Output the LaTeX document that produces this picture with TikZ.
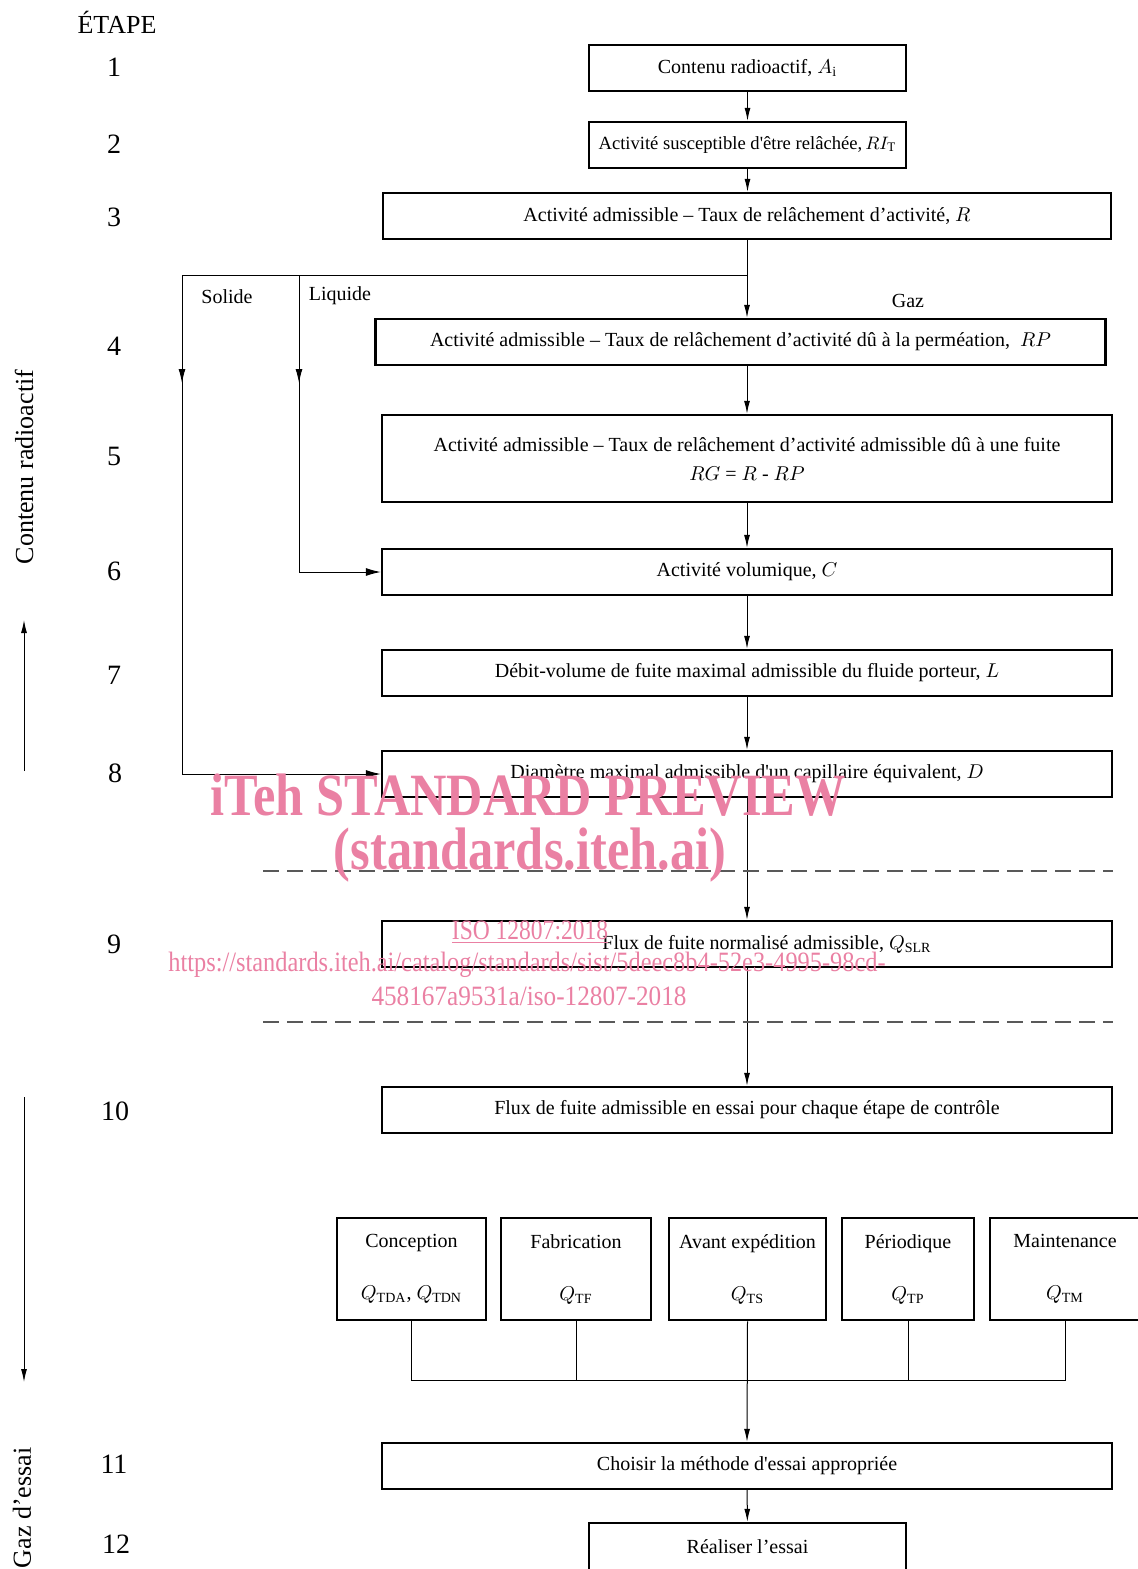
\documentclass[tikz,border=0pt]{standalone}
\usepackage{fontspec}
\setmainfont{Liberation Serif}
\usetikzlibrary{arrows.meta,decorations.markings}

\definecolor{wmpink}{RGB}{234,128,163}
\newcommand{\apos}{\textquotesingle}

\tikzset{
  etape/.style={draw,line width=1.2pt,inner sep=2pt,minimum height=23pt,font=\fontsize{10}{12}\selectfont},
  wide/.style={etape,minimum width=365pt},
  narrow/.style={etape,minimum width=158.5pt},
  ctrl/.style={etape,minimum height=51pt,align=center,anchor=north},
  num/.style={font=\fontsize{14}{16}\selectfont},
  side/.style={font=\fontsize{13}{15}\selectfont,rotate=90},
  branche/.style={font=\fontsize{10}{12}\selectfont},
  trait/.style={line width=0.5pt},
  lien/.style={trait,-{Latex[length=6.5pt,width=3pt]}},
  midarrow/.style={trait,-{Latex[length=7.5pt,width=4pt]},
    decoration={markings,mark=at position 54pt with {\arrow{Latex[length=7pt,width=3.5pt]}}},
    postaction={decorate}},
  sep/.style={line width=0.6pt,gray!70!black,dash pattern=on 8pt off 4pt},
  wm/.style={text=wmpink}
}

\begin{document}
\begin{tikzpicture}[x=0.5pt,y=-0.5pt]
    \useasboundingbox (0,0) rectangle (1138,1569);

    % Step column
    \node[font=\fontsize{13}{15}\selectfont] (etp) at (117,22) {ÉTAPE};
    \node[num] (n1) at (114,67) {1};
    \node[num] (n2) at (114,144) {2};
    \node[num] (n3) at (114,217) {3};
    \node[num] (n4) at (114,346) {4};
    \node[num] (n5) at (114,456) {5};
    \node[num] (n6) at (114,571) {6};
    \node[num] (n7) at (114,675) {7};
    \node[num] (n8) at (115,773) {8};
    \node[num] (n9) at (114,944) {9};
    \node[num] (n10) at (115,1111) {10};
    \node[num] (n11) at (114,1464) {11};
    \node[num] (n12) at (116,1544) {12};

    % Side labels
    \node[side] (radio) at (24,467) {Contenu radioactif};
    \node[side] (gazes) at (22,1508) {Gaz d’essai};
    \coordinate (upA) at (24,771);
    \coordinate (upB) at (24,620);
    \coordinate (dnA) at (24,1097);
    \coordinate (dnB) at (24,1382);
    \draw[lien] (upA) -- (upB);
    \draw[lien] (dnA) -- (dnB);

    % Main boxes
    \node[narrow] (contenu) at (747.5,68) {Contenu radioactif, $A_{\mathrm{i}}$};
    \node[narrow,inner sep=1pt,font=\fontsize{9.3}{11}\selectfont] (relache) at (747.5,145) {Activité susceptible d\apos être relâchée,$\,RI_{\mathrm{T}}$};
    \node[wide,minimum width=364pt] (admis) at (747,216) {Activité admissible – Taux de relâchement d’activité, $R$};
    \node[wide] (perm) at (740.5,342) {Activité admissible – Taux de relâchement d’activité dû à la perméation,~~$RP$};
    \node[wide,minimum height=43.5pt,align=center] (fuite) at (747,458.5) {Activité admissible – Taux de relâchement d’activité admissible dû à une fuite\\[2.5pt]$RG$ = $R$ - $RP$};
    \node[wide] (volum) at (747,572) {Activité volumique, $C$};
    \node[wide] (debit) at (747,673) {Débit-volume de fuite maximal admissible du fluide porteur, $L$};
    \node[wide] (diam) at (747,774) {Diamètre maximal admissible d\apos un capillaire équivalent, $D$};
    \node[wide] (flux) at (747,944) {\hspace*{20pt}Flux de fuite normalisé admissible, $Q_{\mathrm{SLR}}$};
    \node[wide] (fluxessai) at (747,1110) {Flux de fuite admissible en essai pour chaque étape de contrôle};

    % Control stages
    \node[ctrl,minimum width=74.5pt] (concep) at (411.5,1217) {Conception\\[14pt]$Q_{\mathrm{TDA}}$, $Q_{\mathrm{TDN}}$};
    \node[ctrl,minimum width=75pt] (fabric) at (576,1217) {Fabrication\\[14pt]$Q_{\mathrm{TF}}$};
    \node[ctrl,minimum width=78.5pt] (avant) at (747.5,1217) {Avant expédition\\[14pt]$Q_{\mathrm{TS}}$};
    \node[ctrl,minimum width=66pt] (period) at (908,1217) {Périodique\\[14pt]$Q_{\mathrm{TP}}$};
    \node[ctrl,minimum width=75pt] (maint) at (1065,1217) {Maintenance\\[14pt]$Q_{\mathrm{TM}}$};

    \node[wide] (choix) at (747,1466) {Choisir la méthode d\apos essai appropriée};
    \node[narrow,minimum height=24pt] (essai) at (747.5,1547) {Réaliser l’essai};

    % Branches
    \coordinate (split) at (747,275);
    \coordinate (liq) at (299,275);
    \coordinate (sol) at (182,275);
    \coordinate (bus) at (747,1380);
    \node[branche] (lsol) at (227,297) {Solide};
    \node[branche] (lliq) at (340,296) {Liquide};
    \node[branche] (lgaz) at (908,301) {Gaz};

    % Connectors
    \draw[lien] (contenu) -- (relache);
    \draw[lien] (relache) -- (relache.south |- admis.north);
    \draw[trait] (admis.south -| split) -- (split) -- (sol);
    \draw[lien] (split) -- (split |- perm.north);
    \draw[midarrow] (liq) |- (volum.west);
    \draw[midarrow] (sol) |- (diam.west);
    \draw[lien] (fuite.north |- perm.south) -- (fuite.north);
    \draw[lien] (fuite) -- (volum);
    \draw[lien] (volum) -- (debit);
    \draw[lien] (debit) -- (diam);
    \draw[lien] (diam) -- (flux);
    \draw[lien] (flux) -- (fluxessai);
    \draw[trait] (concep.south) |- (bus) -| (maint.south);
    \draw[trait] (fabric.south) -- (fabric.south |- bus);
    \draw[trait] (period.south) -- (period.south |- bus);
    \draw[lien] (avant.south) -- (choix.north);
    \draw[lien] (choix) -- (essai);

    % Dashed separators
    \coordinate (sepA) at (263,871);
    \coordinate (sepB) at (263,1022);
    \draw[sep] (sepA) -- (sepA -| fluxessai.east);
    \draw[sep] (sepB) -- (sepB -| fluxessai.east);

    % Watermark
    \node[wm,font=\fontsize{30}{32}\selectfont\bfseries] (wm1) at (528,795) {\scalebox{0.84}[1]{iTeh STANDARD PREVIEW}};
    \node[wm,font=\fontsize{30}{32}\selectfont\bfseries] (wm2) at (530,855) {\scalebox{0.84}[1]{(standards.iteh.ai)}};
    \node[wm,font=\fontsize{14}{16}\selectfont] (wm3) at (530,932) {\scalebox{0.84}[1]{\underline{ISO 12807:2018}}};
    \node[wm,font=\fontsize{14}{16}\selectfont] (wm4) at (527,965) {\scalebox{0.87}[1]{https://standards.iteh.ai/catalog/standards/sist/5deec8b4-52e3-4995-98cd-}};
    \node[wm,font=\fontsize{14}{16}\selectfont] (wm5) at (529,996) {\scalebox{0.9}[1]{458167a9531a/iso-12807-2018}};
\end{tikzpicture}
\end{document}
